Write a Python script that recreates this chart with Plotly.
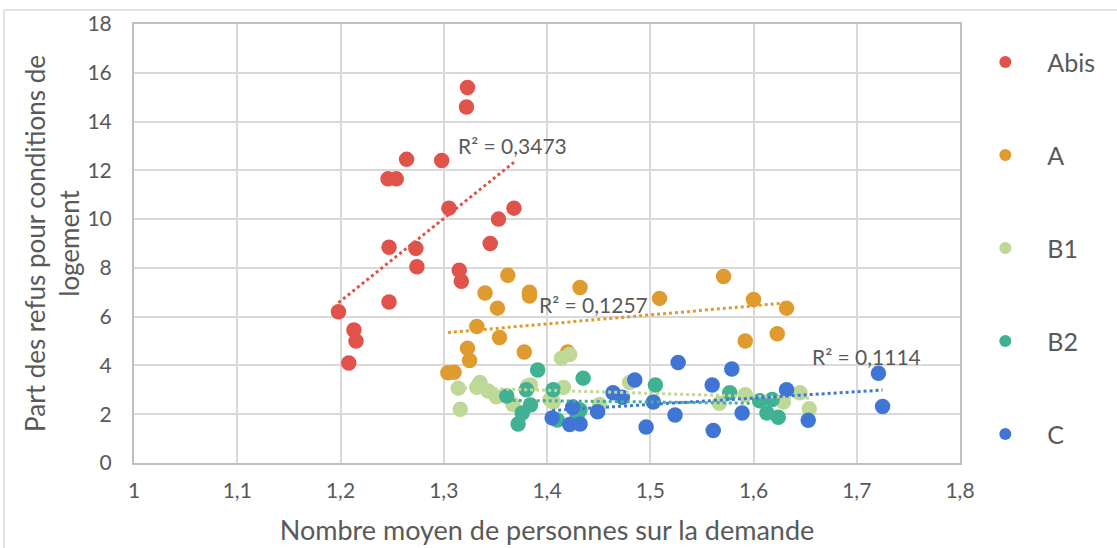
import numpy as np
import plotly.graph_objects as go

# Nombre moyen de personnes (x) / part des refus (y), par catégorie
abis_x = [1.198, 1.208, 1.213, 1.215, 1.247, 1.247, 1.246, 1.254, 1.264, 1.273,
          1.274, 1.298, 1.305, 1.315, 1.317, 1.322, 1.323, 1.345, 1.353, 1.368]
abis_y = [6.2, 4.1, 5.45, 5.0, 8.85, 6.6, 11.65, 11.65, 12.45, 8.8,
          8.05, 12.4, 10.45, 7.9, 7.45, 14.6, 15.4, 9.0, 10.0, 10.45]

a_x = [1.304, 1.310, 1.323, 1.325, 1.332, 1.340, 1.352, 1.354, 1.362, 1.378,
       1.383, 1.383, 1.420, 1.432, 1.509, 1.571, 1.592, 1.600, 1.623, 1.632]
a_y = [3.7, 3.72, 4.7, 4.2, 5.6, 6.97, 6.35, 5.15, 7.7, 4.55,
       7.0, 6.85, 4.55, 7.2, 6.75, 7.65, 5.0, 6.7, 5.3, 6.35]

b1_x = [1.314, 1.316, 1.332, 1.335, 1.343, 1.351, 1.367, 1.381, 1.384, 1.403,
        1.406, 1.414, 1.416, 1.422, 1.451, 1.480, 1.567, 1.592, 1.629, 1.645, 1.654]
b1_y = [3.07, 2.2, 3.1, 3.3, 2.95, 2.72, 2.4, 3.15, 3.2, 2.6,
        2.5, 4.3, 3.1, 4.45, 2.4, 3.3, 2.45, 2.8, 2.5, 2.88, 2.22]

b2_x = [1.361, 1.372, 1.376, 1.380, 1.384, 1.391, 1.406, 1.410, 1.425, 1.429,
        1.432, 1.435, 1.505, 1.577, 1.606, 1.613, 1.618, 1.624]
b2_y = [2.75, 1.6, 2.05, 3.0, 2.38, 3.81, 3.0, 1.76, 2.3, 1.9,
        2.17, 3.48, 3.2, 2.88, 2.55, 2.05, 2.6, 1.88]

c_x = [1.405, 1.422, 1.425, 1.432, 1.449, 1.464, 1.473, 1.485, 1.496, 1.503,
       1.524, 1.527, 1.560, 1.561, 1.579, 1.589, 1.632, 1.653, 1.721, 1.725]
c_y = [1.85, 1.58, 2.28, 1.6, 2.1, 2.88, 2.7, 3.4, 1.48, 2.5,
       1.97, 4.12, 3.2, 1.33, 3.85, 2.05, 3.0, 1.75, 3.68, 2.32]

series_names = ["Abis", "A", "B1", "B2", "C"]
series_x = [abis_x, a_x, b1_x, b2_x, c_x]
series_y = [abis_y, a_y, b1_y, b2_y, c_y]
colors = ["#E1524A", "#E09B2E", "#BED897", "#40B293", "#3F76D6"]

# courbes de tendance affichées (avec leur R²)
trend_series = ["Abis", "A", "B1", "B2", "C"]
r2_labels = {"Abis": "R² = 0,3473", "A": "R² = 0,1257", "C": "R² = 0,1114"}
r2_pos = {"Abis": (1.367, 13.0), "A": (1.4446, 6.5), "C": (1.709, 4.35)}

x_tickvals = [1.0, 1.1, 1.2, 1.3, 1.4, 1.5, 1.6, 1.7, 1.8]
x_ticktext = ["1", "1,1", "1,2", "1,3", "1,4", "1,5", "1,6", "1,7", "1,8"]
y_tickvals = [0, 2, 4, 6, 8, 10, 12, 14, 16, 18]

FONT = "Lato"
GREY = "#595959"

fig = go.Figure()

for name, xs, ys, col in zip(series_names, series_x, series_y, colors):
    fig.add_scatter(
        x=xs,
        y=ys,
        mode="markers",
        name=name,
        legendgroup=name,
        marker={"size": 15.5, "color": col, "line": {"width": 0}},
    )

# Excel draws trendlines above every series
for name, xs, ys, col in zip(series_names, series_x, series_y, colors):
    if name not in trend_series:
        continue
    slope, icpt = np.polyfit(xs, ys, 1)
    x0, x1 = min(xs), max(xs)
    fig.add_scatter(
        x=[x0, x1],
        y=[slope * x0 + icpt, slope * x1 + icpt],
        mode="lines",
        line={"color": col, "width": 3, "dash": "dot"},
        showlegend=False,
        hoverinfo="skip",
    )

for name, text in r2_labels.items():
    tx, ty = r2_pos[name]
    fig.add_annotation(
        x=tx, y=ty, text=text, showarrow=False,
        font={"family": FONT, "size": 21, "color": GREY},
    )

# y title (two lines, rotated)
fig.add_annotation(
    xref="paper", yref="paper", x=-0.1, y=0.5,
    xanchor="center", yanchor="middle",
    text="Part des refus pour conditions de<br>logement",
    textangle=-90, showarrow=False,
    font={"family": FONT, "size": 26, "color": GREY},
)

# outer chart frame (top and left edges visible)
fig.add_shape(type="line", xref="paper", yref="paper",
              x0=-0.1574, x1=1.2, y0=1.032, y1=1.032,
              line={"color": "#D9D9D9", "width": 1.5})
fig.add_shape(type="line", xref="paper", yref="paper",
              x0=-0.1574, x1=-0.1574, y0=1.032, y1=-0.25,
              line={"color": "#D9D9D9", "width": 1.5})

fig.update_xaxes(
    range=[1, 1.8],
    tickmode="array",
    tickvals=x_tickvals,
    ticktext=x_ticktext,
    showgrid=True,
    gridcolor="#D9D9D9",
    gridwidth=2,
    zeroline=False,
    showline=True,
    linecolor="#BFBFBF",
    linewidth=2,
    mirror=True,
    ticklabelstandoff=8,
    tickfont={"family": FONT, "size": 21, "color": GREY},
    title={"text": "Nombre moyen de personnes sur la demande",
           "font": {"family": FONT, "size": 27, "color": GREY},
           "standoff": 20},
)
fig.update_yaxes(
    range=[0, 18],
    tickmode="array",
    tickvals=y_tickvals,
    showgrid=True,
    gridcolor="#D9D9D9",
    gridwidth=2,
    zeroline=False,
    showline=True,
    linecolor="#BFBFBF",
    linewidth=2,
    mirror=True,
    ticklabelstandoff=16,
    tickfont={"family": FONT, "size": 21, "color": GREY},
)

fig.update_layout(
    width=1117,
    height=548,
    margin={"l": 134, "r": 157, "t": 24, "b": 85, "autoexpand": False},
    paper_bgcolor="white",
    plot_bgcolor="white",
    font={"family": FONT, "color": GREY},
    legend={
        "x": 1.004, "y": 0.965, "xanchor": "left", "yanchor": "top",
        "font": {"family": FONT, "size": 25, "color": GREY},
        "itemsizing": "constant",
        "itemwidth": 74,
        "tracegroupgap": 57.5,
    },
)

# drop the default page margin so the figure sits at the window corner
fig.write_html("out.html",
               config={"displayModeBar": False},
               post_script="document.body.style.margin = '0';")
